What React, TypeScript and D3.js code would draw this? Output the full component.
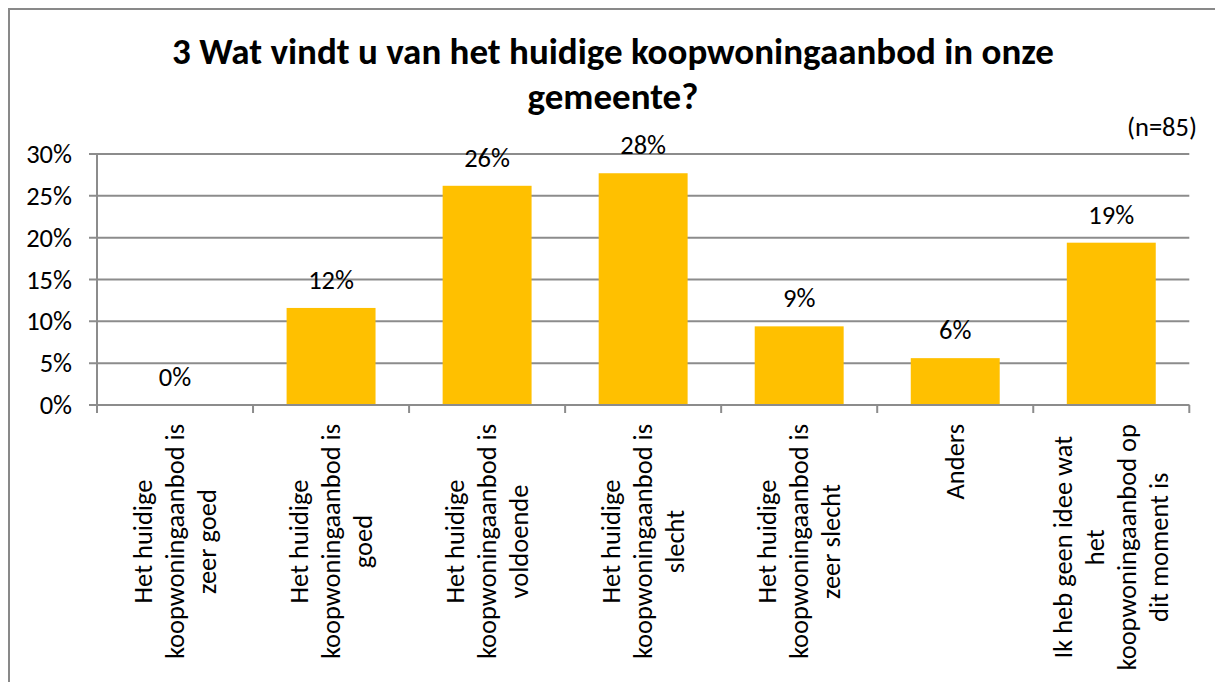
import React, { useEffect, useRef } from "react";
import * as d3 from "d3";

const categories: string[][] = [
  ["Het huidige", "koopwoningaanbod is", "zeer goed"],
  ["Het huidige", "koopwoningaanbod is", "goed"],
  ["Het huidige", "koopwoningaanbod is", "voldoende"],
  ["Het huidige", "koopwoningaanbod is", "slecht"],
  ["Het huidige", "koopwoningaanbod is", "zeer slecht"],
  ["Anders"],
  ["Ik heb geen idee wat", "het", "koopwoningaanbod op", "dit moment is"],
];
const values: number[] = [0, 11.6, 26.2, 27.7, 9.4, 5.6, 19.4];
const yTicks: number[] = [0, 5, 10, 15, 20, 25, 30];
const titleLines: string[] = ["3 Wat vindt u van het huidige koopwoningaanbod in onze", "gemeente?"];
const noteText = "(n=85)";

const W = 1215;
const H = 682;
const FONT = "Carlito, Calibri, Lato, 'Open Sans', sans-serif";
const FS = 26.5;

export default function App() {
  const ref = useRef<SVGSVGElement>(null);

  useEffect(() => {
    const svg = d3.select(ref.current);
    svg.selectAll("*").remove();

    const left = 97, right = 1189.3, top = 154, bottom = 405;
    const ids = categories.map((_, i) => String(i));
    const x = d3.scaleBand<string>().domain(ids).range([left, right]).paddingInner(0.43).paddingOuter(0.215);
    const y = d3.scaleLinear().domain([0, 30]).range([bottom, top]);
    const step = x.step();

    svg.append("rect").attr("width", W).attr("height", H).attr("fill", "#fff");
    svg.append("rect").attr("x", 9).attr("y", 9).attr("width", W + 20).attr("height", H + 20)
      .attr("fill", "none").attr("stroke", "#898989").attr("stroke-width", 2);

    // title
    const title = svg.append("text").attr("font-family", FONT).attr("font-weight", "bold")
      .attr("font-size", 37).attr("text-anchor", "middle").attr("fill", "#000");
    titleLines.forEach((t, i) => {
      title.append("tspan").attr("x", 613).attr("y", 64 + i * 45).text(t);
    });

    svg.append("text").attr("x", 1197).attr("y", 136).attr("text-anchor", "end")
      .attr("font-family", FONT).attr("font-size", FS).attr("fill", "#000").text(noteText);

    // gridlines and y ticks
    const g = svg.append("g");
    yTicks.forEach((t) => {
      g.append("line").attr("x1", left - 8).attr("x2", right).attr("y1", y(t)).attr("y2", y(t))
        .attr("stroke", "#8c8c8c").attr("stroke-width", 2);
      g.append("text").attr("x", 72).attr("y", y(t) + 9).attr("text-anchor", "end")
        .attr("font-family", FONT).attr("font-size", FS).attr("fill", "#000").text(`${t}%`);
    });
    // y axis line
    g.append("line").attr("x1", left).attr("x2", left).attr("y1", top).attr("y2", bottom + 8)
      .attr("stroke", "#8c8c8c").attr("stroke-width", 2);

    // bars
    values.forEach((v, i) => {
      const bx = x(String(i))!;
      g.append("rect").attr("x", bx).attr("y", y(v)).attr("width", x.bandwidth())
        .attr("height", y(0) - y(v)).attr("fill", "#FFC000");
      g.append("text").attr("x", bx + x.bandwidth() / 2).attr("y", y(v) - 19)
        .attr("text-anchor", "middle").attr("font-family", FONT).attr("font-size", FS)
        .attr("fill", "#000").text(`${Math.round(v)}%`);
    });

    // x axis
    g.append("line").attr("x1", left).attr("x2", right).attr("y1", bottom).attr("y2", bottom)
      .attr("stroke", "#8c8c8c").attr("stroke-width", 2);
    for (let i = 0; i <= categories.length; i++) {
      const tx = left + i * step;
      g.append("line").attr("x1", tx).attr("x2", tx).attr("y1", bottom).attr("y2", bottom + 8)
        .attr("stroke", "#8c8c8c").attr("stroke-width", 2);
    }

    // category labels
    const lineH = 32;
    categories.forEach((lines, i) => {
      const cx = x(String(i))! + x.bandwidth() / 2;
      const grp = g.append("g").attr("transform", `translate(${cx},0) rotate(-90)`);
      const texts = lines.map((ln, j) =>
        grp.append("text").attr("text-anchor", "middle").attr("font-family", FONT)
          .attr("font-size", FS).attr("fill", "#000")
          .attr("y", (j - (lines.length - 1) / 2) * lineH + 9).text(ln)
      );
      const maxW = d3.max(texts, (t) => (t.node() as SVGTextElement).getComputedTextLength()) || 0;
      const yc = 424 + maxW / 2;
      texts.forEach((t) => t.attr("x", -yc));
    });
  }, []);

  return (
    <svg ref={ref} width={W} height={H} style={{ position: "absolute", left: 0, top: 0 }} />
  );
}
